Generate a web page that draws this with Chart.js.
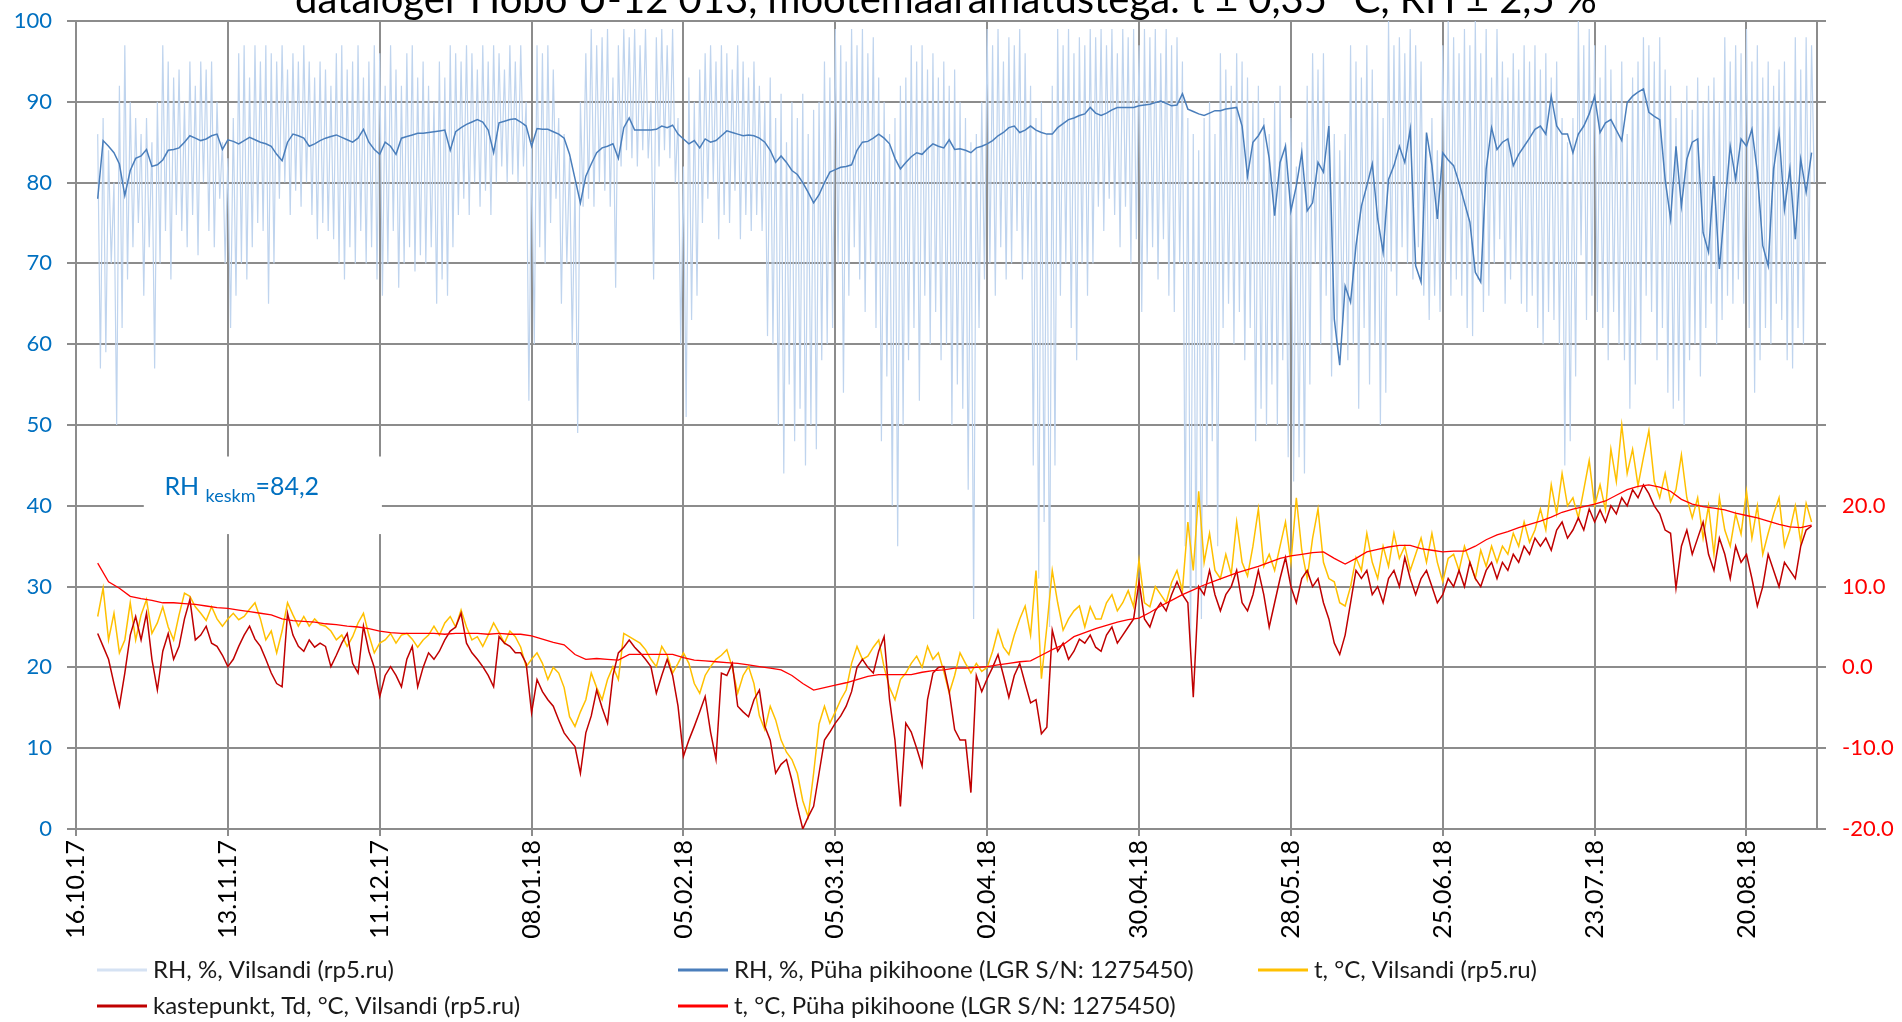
<!DOCTYPE html>
<html>
<head>
<meta charset="utf-8">
<script src="https://cdn.jsdelivr.net/npm/chart.js@4.4.1/dist/chart.umd.min.js"></script>
<style>
html, body { margin: 0; padding: 0; background: #fff; }
#wrap { width: 1902px; height: 1022px; position: relative; }
</style>
</head>
<body>
<div id="wrap"><canvas id="hobo"></canvas></div>
<script>
const titleText = "dataloger Hobo U-12 013, mõõtemääramatustega: t ± 0,35 °C, RH ± 2,5 %";
const xTickLabels = ["16.10.17", "13.11.17", "11.12.17", "08.01.18", "05.02.18", "05.03.18",
    "02.04.18", "30.04.18", "28.05.18", "25.06.18", "23.07.18", "20.08.18"];
const seriesLabels = ["RH, %, Vilsandi (rp5.ru)", "RH, %, Püha pikihoone (LGR S/N: 1275450)",
    "t, °C, Vilsandi (rp5.ru)", "kastepunkt, Td, °C, Vilsandi (rp5.ru)",
    "t, °C, Püha pikihoone (LGR S/N: 1275450)"];
const rhMean = "84,2";

// days counted from 16.10.17, all series start on day 4
// RH Vilsandi, every 12 h
const rhVilsandi = [
    86,57, 88,59, 84,70, 80,50, 92,62, 97,68, 90,72, 88,75, 86,66, 88,72,
    85,57, 90,70, 97,74, 95,68, 93,76, 94,74, 90,72, 95,76, 92,71, 95,80,
    94,74, 95,72, 90,78, 85,70, 83,62, 88,66, 96,70, 97,68, 93,72, 97,75,
    95,74, 97,65, 96,70, 95,78, 97,80, 94,76, 96,79, 95,77, 97,80, 95,76,
    93,73, 95,75, 94,74, 92,73, 96,70, 97,68, 94,72, 95,70, 97,74, 93,70,
    95,72, 97,68, 96,66, 92,70, 97,74, 94,67, 92,70, 96,72, 97,69, 93,71,
    95,70, 92,72, 90,65, 95,68, 93,66, 97,72, 96,76, 95,78, 97,76, 96,80,
    94,77, 97,79, 95,76, 97,80, 96,82, 94,80, 97,81, 95,80, 97,82, 90,53,
    85,60, 97,72, 96,70, 97,75, 94,78, 88,65, 86,70, 83,60, 80,49, 90,77,
    96,78, 99,77, 97,80, 98,79, 99,77, 93,67, 97,82, 99,84, 98,83, 99,82,
    97,84, 99,83, 90,68, 98,82, 99,84, 97,83, 99,80, 88,60, 82,51, 93,63,
    90,66, 94,75, 96,78, 97,80, 95,73, 97,76, 96,75, 94,79, 97,73, 95,76,
    93,74, 95,76, 92,74, 90,61, 93,60, 88,50, 91,44, 85,55, 90,48, 88,52,
    91,45, 86,50, 89,47, 90,58, 95,60, 93,62, 99,70, 97,54, 95,66, 99,72,
    97,68, 99,64, 96,70, 98,62, 93,48, 90,56, 86,40, 88,35, 92,50, 93,58,
    97,62, 95,53, 97,66, 94,60, 96,64, 93,58, 95,60, 92,50, 94,55, 90,52,
    88,42, 85,26, 86,62, 90,68, 99,70, 97,66, 99,72, 95,68, 98,70, 97,74,
    99,68, 96,70, 92,45, 88,31, 90,38, 86,25, 92,45, 99,66, 97,70, 99,62,
    96,58, 98,70, 97,66, 99,70, 98,77, 99,74, 97,78, 99,76, 96,72, 99,77,
    98,70, 99,73, 97,64, 99,70, 98,72, 99,68, 96,73, 99,66, 97,64, 98,70,
    95,35, 88,22, 86,30, 84,26, 88,40, 90,48, 86,35, 96,62, 94,65, 92,60,
    96,64, 95,58, 93,62, 90,48, 92,52, 88,50, 86,55, 90,50, 92,58, 85,46,
    88,43, 82,46, 85,44, 92,55, 96,70, 94,60, 96,66, 90,56, 86,60, 84,62,
    86,58, 97,60, 95,52, 93,62, 97,55, 94,60, 90,50, 88,54, 100,69, 97,66,
    98,72, 96,70, 99,68, 97,72, 95,66, 85,63, 88,66, 84,64, 97,70, 100,66,
    98,68, 96,66, 99,62, 97,61, 100,68, 96,64, 99,66, 93,70, 99,73, 95,65,
    93,68, 96,70, 94,65, 97,64, 95,66, 97,62, 94,60, 96,64, 93,63, 95,60,
    88,45, 85,48, 88,56, 100,71, 97,63, 99,66, 97,64, 93,62, 97,58, 94,64,
    90,60, 95,58, 86,52, 93,55, 95,60, 98,66, 97,64, 95,58, 98,62, 94,54,
    92,52, 88,53, 90,50, 92,58, 89,60, 93,56, 90,62, 92,65, 93,60, 90,63,
    98,66, 95,65, 97,68, 96,65, 99,62, 95,54, 97,58, 93,62, 95,60, 92,65,
    94,63, 95,58, 90,57, 98,62, 94,60, 98,70, 97,80
];
// RH Püha pikihoone, daily
const rhPuha = [
    78, 85.2, 84.5, 83.7, 82.3, 78.4, 81.5, 83, 83.3, 84.1,
    82, 82.2, 82.8, 84, 84.1, 84.3, 85, 85.8, 85.5, 85.2,
    85.4, 85.8, 86, 84.1, 85.3, 85.1, 84.8, 85.2, 85.6, 85.3,
    85, 84.8, 84.5, 83.5, 82.7, 85, 86, 85.8, 85.5, 84.5,
    84.8, 85.2, 85.5, 85.7, 85.9, 85.6, 85.3, 85, 85.5, 86.6,
    85, 84.1, 83.5, 85, 84.5, 83.5, 85.5, 85.7, 85.9, 86.1,
    86.1, 86.2, 86.3, 86.4, 86.5, 84, 86.3, 86.8, 87.2, 87.5,
    87.8, 87.5, 86.5, 83.7, 87.4, 87.6, 87.8, 87.9, 87.5, 87,
    84.5, 86.7, 86.6, 86.6, 86.3, 86, 85.5, 83.5, 80.5, 77.5,
    80.8, 82.3, 83.7, 84.3, 84.5, 84.8, 83, 86.8, 88, 86.5,
    86.5, 86.5, 86.5, 86.6, 87, 86.8, 87.1, 86, 85.4, 84.8,
    85.2, 84.3, 85.4, 85, 85.2, 85.8, 86.4, 86.2, 86, 85.8,
    85.9, 85.8, 85.5, 85, 84, 82.5, 83.3, 82.5, 81.5, 81,
    80, 78.8, 77.5, 78.5, 80, 81.3, 81.6, 81.9, 82, 82.2,
    84, 85, 85.1, 85.5, 86, 85.5, 84.8, 83, 81.7, 82.5,
    83.2, 83.7, 83.5, 84.2, 84.8, 84.5, 84.3, 85.3, 84.1, 84.2,
    84, 83.7, 84.3, 84.5, 84.8, 85.2, 85.8, 86.2, 86.8, 87,
    86.2, 86.5, 87, 86.5, 86.2, 86, 86, 86.8, 87.3, 87.8,
    88, 88.3, 88.5, 89.3, 88.6, 88.3, 88.6, 89, 89.3, 89.3,
    89.3, 89.3, 89.5, 89.6, 89.7, 89.9, 90.1, 89.8, 89.5, 89.6,
    91, 89.1, 88.8, 88.5, 88.3, 88.6, 88.9, 88.9, 89.1, 89.2,
    89.3, 87, 80.8, 85, 85.8, 87, 83, 75.9, 82.5, 84.5,
    76.5, 79.6, 83.7, 76.5, 77.5, 82.5, 81.3, 87, 63.1, 57.4,
    67.2, 65.2, 72.2, 77.1, 79.6, 82.3, 75.5, 71.4, 80.4, 82.1,
    84.5, 82.5, 86.6, 69.7, 67.7, 86.2, 82.1, 75.5, 83.7, 82.8,
    82.1, 80, 77.5, 75.1, 68.9, 67.7, 81.7, 86.8, 84.1, 85,
    85.4, 82.1, 83.5, 84.5, 85.5, 86.6, 87, 86, 90.7, 87,
    86, 86, 83.7, 86, 87, 88.5, 90.7, 86.2, 87.4, 87.8,
    86.5, 85.2, 89.9, 90.7, 91.2, 91.6, 88.7, 88.2, 87.8, 80.4,
    75.5, 84.5, 77.1, 82.9, 85, 85.4, 73.8, 71.4, 80.8, 69.3,
    77.1, 84.5, 80.4, 85.4, 84.5, 86.6, 81.3, 72.2, 69.7, 81.7,
    86.2, 76.7, 81.7, 73, 82.9, 78.8, 83.7
];
// t Vilsandi, °C, daily
const tVilsandi = [
    6.3, 9.8, 3.4, 6.7, 1.8, 3.4, 8.0, 3.4, 6.5, 8.4,
    4.2, 5.5, 7.5, 5.0, 3.4, 6.5, 9.2, 8.8, 7.5, 6.7,
    5.8, 7.5, 6.0, 5.1, 6.0, 6.7, 5.9, 6.3, 7.2, 8.0,
    6.0, 3.4, 4.5, 1.8, 4.5, 8.0, 6.5, 5.1, 6.3, 5.1,
    6.0, 5.3, 5.1, 4.5, 3.4, 4.0, 2.6, 3.8, 5.5, 6.7,
    4.0, 1.8, 3.0, 3.4, 4.2, 3.0, 4.0, 4.2, 3.5, 2.5,
    3.4, 4.0, 5.1, 4.0, 5.5, 6.3, 5.0, 7.1, 5.0, 3.4,
    3.8, 2.6, 4.0, 5.5, 4.3, 3.0, 4.5, 3.8, 2.5, 0.1,
    1.0, 1.8, 0.5, -1.5, 0.0, -0.7, -2.5, -6.1, -7.3, -5.5,
    -4.0, -0.7, -2.5, -4.0, -1.5, 0.1, -1.5, 4.2, 3.8, 3.4,
    3.0, 2.2, 1.0, 0.1, 2.6, 1.5, -0.7, 0.5, 1.8, 0.5,
    -2.0, -3.2, -1.0, 0.1, 1.0, 1.5, 2.2, 0.0, -3.2, -1.0,
    0.1, -2.0, -6.0, -7.7, -4.8, -6.5, -9.0, -10.5, -11.4, -13.1,
    -16.5, -18.5, -13.1, -7.0, -4.8, -6.9, -5.5, -4.0, -2.8, 0.5,
    2.6, 1.0, 1.4, 2.5, 3.4, 0.0, -2.5, -4.0, -1.5, -0.7,
    0.5, 1.4, 0.0, 2.6, 1.0, 1.8, -0.5, -3.2, -1.0, 1.8,
    0.5, -0.7, 0.5, -0.5, 0.0, 2.0, 4.6, 2.5, 1.6, 4.0,
    6.0, 7.6, 4.0, 12.0, -1.4, 5.0, 12.0, 8.0, 4.6, 6.0,
    7.0, 7.6, 5.0, 7.5, 6.0, 6.0, 8.0, 9.0, 7.0, 8.0,
    9.5, 7.5, 13.3, 8.0, 7.5, 10.0, 9.0, 8.0, 10.5, 12.0,
    9.5, 18.0, 12.0, 21.8, 13.0, 16.6, 12.0, 11.0, 14.0, 11.5,
    18.0, 13.0, 11.3, 15.0, 19.6, 12.5, 14.0, 12.0, 15.0, 18.0,
    13.0, 21.0, 14.5, 11.0, 16.0, 19.6, 13.0, 11.0, 10.6, 8.0,
    7.6, 10.0, 13.6, 12.0, 16.6, 13.0, 11.0, 15.0, 12.5, 16.6,
    13.5, 15.0, 12.0, 14.0, 16.0, 13.0, 16.6, 13.0, 10.6, 13.5,
    14.0, 12.0, 15.0, 13.0, 11.0, 14.5, 12.5, 15.0, 13.0, 15.0,
    14.0, 16.6, 15.0, 18.0, 15.5, 17.0, 19.6, 17.0, 22.6, 19.0,
    24.0, 20.0, 21.0, 18.5, 22.0, 25.6, 20.0, 22.6, 19.5, 27.0,
    23.0, 30.0, 24.0, 27.0, 22.5, 26.0, 29.3, 23.0, 21.0, 24.0,
    20.5, 22.0, 26.3, 21.0, 18.5, 21.0, 16.0, 20.0, 14.0, 21.0,
    17.0, 15.0, 19.0, 16.5, 21.8, 16.0, 20.0, 14.0, 16.6, 19.0,
    21.0, 15.0, 17.0, 20.0, 15.5, 20.3, 18.0
];
// dew point Vilsandi, °C, daily
const tdVilsandi = [
    4.2, 2.6, 1.0, -2.0, -4.8, -0.7, 4.0, 6.3, 3.4, 6.7,
    1.0, -2.8, 2.0, 4.2, 1.0, 2.6, 6.0, 8.4, 3.4, 4.0,
    5.1, 3.0, 2.6, 1.5, 0.1, 1.0, 2.6, 4.0, 5.1, 3.5,
    2.6, 1.0, -0.7, -2.0, -2.4, 6.7, 4.0, 2.6, 2.0, 3.4,
    2.5, 3.0, 2.6, 0.1, 1.5, 3.0, 4.2, 0.5, -0.7, 5.1,
    2.0, 0.0, -3.6, -1.0, 0.1, -1.0, -2.4, 1.0, 2.6, -2.4,
    0.0, 1.8, 1.0, 2.0, 3.4, 4.5, 5.0, 6.7, 3.0, 1.8,
    1.0, 0.1, -1.0, -2.4, 3.8, 3.0, 2.6, 1.8, 1.8, 0.5,
    -5.6, -1.5, -3.0, -4.0, -4.8, -6.5, -8.1, -9.0, -9.8, -13.1,
    -8.1, -6.0, -2.8, -5.0, -6.9, -1.0, 1.8, 2.5, 3.4, 2.5,
    1.8, 1.0, 0.1, -3.2, -1.0, 1.0, -1.0, -4.8, -11.0, -9.0,
    -7.3, -5.5, -3.6, -8.0, -11.4, -0.7, -1.0, 0.5, -4.8, -5.5,
    -6.1, -4.0, -2.8, -7.3, -9.0, -13.1, -12.0, -11.4, -14.0, -17.2,
    -20.0, -18.5, -17.2, -13.1, -9.0, -8.0, -6.9, -6.0, -4.8, -3.0,
    0.0, 1.0, 0.0, -0.7, 2.0, 3.8, -4.0, -9.0, -17.2, -6.9,
    -8.0, -10.0, -12.2, -4.0, -0.7, 0.0, 0.1, -3.0, -7.7, -9.0,
    -9.0, -15.5, -1.0, -3.0, -1.4, 0.0, 1.6, -1.0, -3.7, -1.0,
    0.5, -2.0, -4.4, -4.0, -8.2, -7.4, 4.6, 2.0, 3.0, 1.0,
    2.0, 3.5, 3.0, 4.0, 2.5, 2.0, 4.0, 5.0, 3.0, 4.0,
    5.0, 6.0, 10.6, 6.0, 5.0, 7.0, 8.0, 7.0, 9.0, 10.6,
    9.0, 8.0, -3.7, 10.0, 9.0, 12.0, 9.0, 7.0, 9.0, 10.0,
    12.0, 8.0, 7.0, 9.0, 12.0, 9.0, 5.0, 8.0, 11.0, 13.6,
    10.0, 8.0, 11.0, 12.0, 10.0, 11.0, 8.0, 6.0, 3.0, 1.6,
    4.0, 8.0, 12.0, 11.0, 12.0, 9.0, 10.0, 8.0, 11.0, 12.0,
    10.0, 13.6, 11.0, 9.0, 11.0, 12.0, 10.0, 8.0, 9.0, 11.0,
    10.0, 12.0, 10.0, 13.0, 11.0, 10.0, 12.0, 13.0, 11.0, 13.0,
    12.0, 14.0, 13.0, 15.0, 14.0, 16.0, 15.0, 16.0, 14.5, 17.0,
    18.0, 16.0, 17.0, 18.5, 17.0, 19.6, 18.0, 19.5, 18.0, 20.0,
    19.0, 21.0, 20.0, 22.0, 21.0, 22.6, 21.5, 20.0, 19.0, 17.0,
    16.6, 9.8, 15.0, 17.0, 14.0, 16.0, 18.0, 14.0, 12.0, 16.0,
    14.0, 11.0, 15.0, 13.0, 14.0, 11.0, 7.6, 10.0, 14.0, 12.0,
    10.0, 13.0, 12.0, 11.0, 15.0, 17.0, 17.5
];
// t Püha pikihoone, °C, every 2 days
const tPuha = [
    12.9, 10.6, 9.8, 8.8, 8.5, 8.3, 8.0, 8.0, 7.9, 7.8,
    7.6, 7.4, 7.3, 7.1, 6.9, 6.7, 6.5, 6.0, 5.8, 5.7,
    5.6, 5.4, 5.3, 5.1, 5.0, 4.8, 4.5, 4.3, 4.2, 4.2,
    4.2, 4.2, 4.1, 4.2, 4.2, 4.2, 4.1, 4.2, 4.1, 4.1,
    3.9, 3.5, 3.1, 2.8, 1.6, 1.0, 1.1, 1.0, 0.9, 1.6,
    1.6, 1.6, 1.6, 1.6, 1.2, 0.9, 0.8, 0.7, 0.6, 0.5,
    0.3, 0.1, -0.1, -0.3, -1.0, -2.0, -2.8, -2.5, -2.2, -1.9,
    -1.5, -1.1, -0.9, -0.9, -0.9, -0.9, -0.6, -0.4, -0.3, -0.1,
    -0.1, 0.0, 0.1, 0.3, 0.5, 0.7, 0.8, 1.5, 2.2, 2.8,
    3.8, 4.3, 4.8, 5.2, 5.6, 5.9, 6.1, 6.8, 7.6, 8.3,
    9.0, 9.6, 10.2, 10.7, 11.2, 11.7, 12.1, 12.5, 13.0, 13.5,
    13.8, 14.0, 14.2, 14.3, 13.5, 12.8, 13.5, 14.3, 14.6, 14.9,
    15.1, 15.1, 14.7, 14.5, 14.3, 14.4, 14.4, 15.0, 15.8, 16.4,
    16.8, 17.3, 17.7, 18.1, 18.6, 19.2, 19.6, 19.9, 20.2, 20.6,
    21.3, 22.0, 22.4, 22.6, 22.3, 21.8, 20.8, 20.2, 19.9, 19.7,
    19.5, 19.1, 18.8, 18.5, 18.1, 17.7, 17.4, 17.3, 17.6
];

const seriesColors = ["#BFD4EE", "#4A7EBB", "#FFC000", "#C00000", "#FF0000"];
const legendColors = ["#D5E2F3", "#4A7EBB", "#FFC000", "#C00000", "#FF0000"];
const gridColor = "#8C8C8C";

function series(start, step, values) {
    return values.map((v, i) => ({ x: start + i * step, y: v }));
}

const extras = {
    id: "extras",
    beforeDatasetsDraw(chart) {
        const ctx = chart.ctx, x = chart.scales.x, y = chart.scales.y;
        ctx.save();
        ctx.fillStyle = "#fff";
        const x0 = x.getPixelForValue(12.5), x1 = x.getPixelForValue(56.4);
        const y0 = y.getPixelForValue(46.1), y1 = y.getPixelForValue(36.5);
        ctx.fillRect(x0, y0, x1 - x0, y1 - y0);
        ctx.fillStyle = "#0070C0";
        ctx.textBaseline = "alphabetic";
        let tx = x.getPixelForValue(16.3);
        const ty = y.getPixelForValue(41.3);
        ctx.font = "25px Lato";
        ctx.fillText("RH ", tx, ty);
        tx += ctx.measureText("RH ").width;
        ctx.font = "18px Lato";
        ctx.fillText("keskm", tx, ty + 7);
        tx += ctx.measureText("keskm").width;
        ctx.font = "25px Lato";
        ctx.fillText("=" + rhMean, tx, ty);
        ctx.restore();
    },
    afterDraw(chart) {
        const ctx = chart.ctx;
        ctx.save();
        ctx.fillStyle = "#000";
        ctx.font = "40px Lato";
        ctx.textAlign = "center";
        ctx.textBaseline = "alphabetic";
        ctx.fillText(titleText, 946, 13);
        // legend, two rows
        const cols = [97, 678, 1258], rows = [970, 1006];
        ctx.font = "24px Lato";
        ctx.textAlign = "left";
        ctx.textBaseline = "middle";
        seriesLabels.forEach((label, i) => {
            const cx = cols[i % 3], cy = rows[Math.floor(i / 3)];
            ctx.strokeStyle = legendColors[i];
            ctx.lineWidth = 3;
            ctx.beginPath();
            ctx.moveTo(cx, cy);
            ctx.lineTo(cx + 50, cy);
            ctx.stroke();
            ctx.fillStyle = "#1a1a1a";
            ctx.fillText(label, cx + 56, cy);
        });
        ctx.restore();
    }
};

new Chart("hobo", {
    type: "line",
    data: {
        datasets: [{
            label: seriesLabels[0],
            data: series(4, 0.5, rhVilsandi),
            borderColor: seriesColors[0],
            borderWidth: 1.2,
            yAxisID: "y",
            order: 5
        }, {
            label: seriesLabels[1],
            data: series(4, 1, rhPuha),
            borderColor: seriesColors[1],
            borderWidth: 1.5,
            yAxisID: "y",
            order: 4
        }, {
            label: seriesLabels[2],
            data: series(4, 1, tVilsandi),
            borderColor: seriesColors[2],
            borderWidth: 1.5,
            yAxisID: "y1",
            order: 3
        }, {
            label: seriesLabels[3],
            data: series(4, 1, tdVilsandi),
            borderColor: seriesColors[3],
            borderWidth: 1.5,
            yAxisID: "y1",
            order: 2
        }, {
            label: seriesLabels[4],
            data: series(4, 2, tPuha),
            borderColor: seriesColors[4],
            borderWidth: 1.3,
            yAxisID: "y1",
            order: 1
        }]
    },
    options: {
        responsive: true,
        maintainAspectRatio: false,
        devicePixelRatio: 1,
        animation: false,
        elements: {
            point: { radius: 0 },
            line: { tension: 0 }
        },
        layout: {
            padding: { top: 21, left: 0, right: 0, bottom: 0 }
        },
        plugins: {
            legend: { display: false },
            title: { display: false },
            tooltip: { enabled: false }
        },
        scales: {
            x: {
                type: "linear",
                min: 0,
                max: 321,
                afterFit: (scale) => { scale.height = 193; },
                afterBuildTicks: (scale) => {
                    scale.ticks = xTickLabels.map((l, i) => ({ value: i * 28 }));
                },
                ticks: {
                    autoSkip: false,
                    maxRotation: 90,
                    minRotation: 90,
                    padding: 4,
                    color: "#000",
                    font: { family: "Lato", size: 25 },
                    callback: (value, index) => xTickLabels[index]
                },
                grid: { color: gridColor, lineWidth: 2, tickLength: 7 },
                border: { color: gridColor, width: 2 }
            },
            y: {
                position: "left",
                min: 0,
                max: 100,
                afterFit: (scale) => { scale.width = 76; scale.paddingTop = 0; },
                ticks: {
                    stepSize: 10,
                    padding: 15,
                    color: "#0070C0",
                    font: { family: "Lato", size: 22 }
                },
                grid: { color: gridColor, lineWidth: 2, tickLength: 9 },
                border: { color: gridColor, width: 2 }
            },
            y1: {
                position: "right",
                min: -20,
                max: 80,
                afterFit: (scale) => { scale.width = 85; scale.paddingTop = 0; },
                ticks: {
                    stepSize: 10,
                    padding: 16,
                    color: "#FF0000",
                    font: { family: "Lato", size: 22 },
                    callback: (value) => value <= 20 ? value.toFixed(1) : ""
                },
                grid: { drawOnChartArea: false, color: gridColor, lineWidth: 2, tickLength: 9 },
                border: { color: gridColor, width: 2 }
            }
        }
    },
    plugins: [extras]
});
</script>
</body>
</html>
